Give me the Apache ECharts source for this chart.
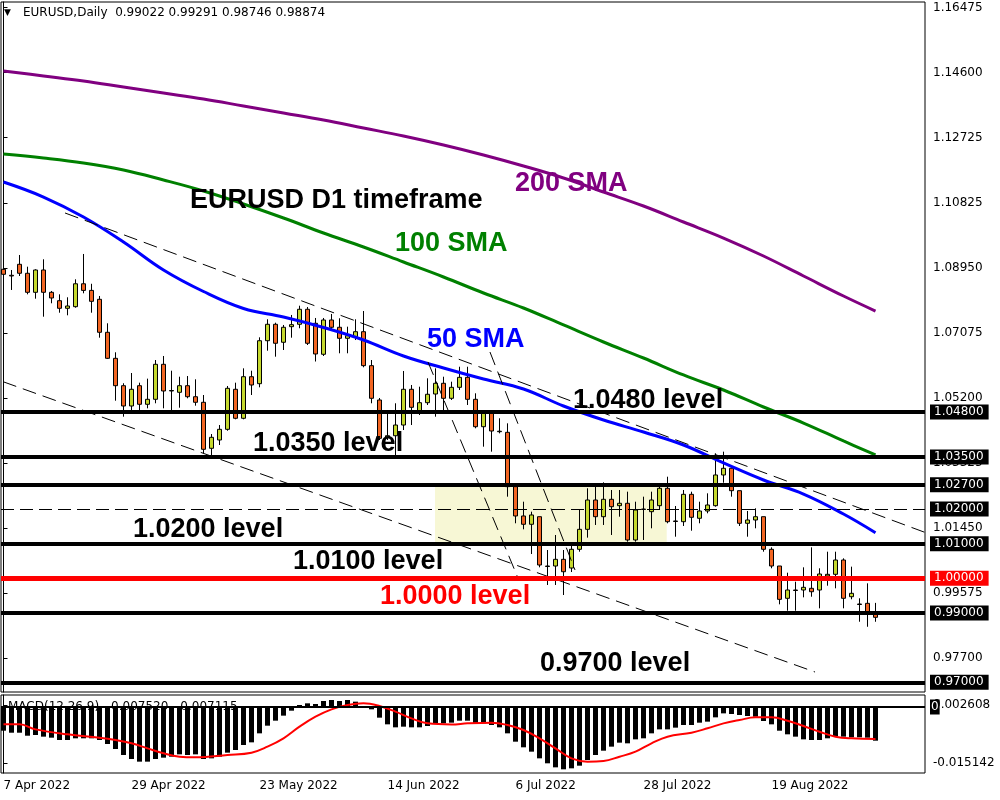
<!DOCTYPE html>
<html><head><meta charset="utf-8">
<script src="https://cdn.jsdelivr.net/npm/echarts@6/dist/echarts.min.js"></script>
<style>html,body{margin:0;padding:0;background:#fff}#c{width:1000px;height:800px}</style>
</head><body><div id="c"></div>
<script>
// ---------- data ----------
const dateLabels = ['7 Apr 2022','29 Apr 2022','23 May 2022','14 Jun 2022','6 Jul 2022','28 Jul 2022','19 Aug 2022'];
const dateIdx = [0,16,32,48,64,80,96];

const opens = [1.08918,1.08745,1.09062,1.08803,1.08254,1.08898,1.08254,1.08012,1.07792,1.07839,
 1.08500,1.08309,1.08052,1.07100,1.06349,1.05559,1.04973,1.05559,1.05022,1.05166,
 1.06176,1.05420,1.05368,1.05559,1.05241,1.05080,1.03752,1.03992,1.04300,1.05455,
 1.04618,1.05818,1.05617,1.06857,1.07331,1.06812,1.07262,1.07331,1.07764,1.07360,
 1.06465,1.07455,1.07245,1.06927,1.06973,1.07117,1.06137,1.05146,1.04078,1.04115,
 1.04424,1.05455,1.04837,1.05068,1.05319,1.05628,1.05195,1.05512,1.05800,1.05166,
 1.04375,1.04762,1.04231,1.04213,1.02645,1.01799,1.01559,1.01778,1.00355,1.00355,
 1.00548,1.00297,1.00837,1.01414,1.02260,1.01778,1.02280,1.02096,1.02165,1.01106,
 1.02000,1.01923,1.02096,1.02598,1.01654,1.01634,1.02424,1.01732,1.01943,1.02096,
 1.02982,1.03175,1.02529,1.01588,1.01683,1.01778,1.00837,1.00355,0.99423,0.99663,
 0.99663,0.99711,0.99663,1.00067,1.00115,1.00528,0.99469,0.99259,0.99278,0.99022];
const closes = [1.08774,1.08725,1.08803,1.08254,1.08898,1.08254,1.08090,1.07792,1.07859,1.08500,
 1.08309,1.07994,1.07100,1.06349,1.05559,1.04973,1.05455,1.05022,1.05166,1.06176,
 1.05406,1.05406,1.05559,1.05241,1.05080,1.03723,1.04069,1.04300,1.05483,1.04618,
 1.05818,1.05579,1.06857,1.07331,1.06783,1.07245,1.07320,1.07764,1.06783,1.06474,
 1.07455,1.07245,1.06927,1.07002,1.07117,1.06137,1.05195,1.04040,1.04115,1.04424,
 1.05455,1.04935,1.05068,1.05311,1.05628,1.05195,1.05512,1.05800,1.05166,1.04375,
 1.04762,1.04251,1.04245,1.02645,1.01799,1.01559,1.01828,1.00384,1.00341,1.00548,
 1.00190,1.00837,1.01414,1.02260,1.01778,1.02280,1.02067,1.02165,1.01106,1.01971,
 1.01986,1.02260,1.02598,1.01634,1.01640,1.02424,1.01761,1.01943,1.02116,1.02982,
 1.03175,1.02529,1.01588,1.01683,1.01778,1.00837,1.00355,0.99393,0.99663,0.99648,
 0.99740,0.99613,1.00124,1.00115,1.00528,0.99423,0.99567,0.99244,0.99036,0.98874];
const highs = [1.09360,1.08898,1.09331,1.08993,1.08918,1.09207,1.08292,1.08196,1.08110,1.08629,
 1.09360,1.08500,1.08148,1.07360,1.06523,1.05629,1.05925,1.05646,1.05762,1.06300,
 1.06416,1.05991,1.05818,1.05838,1.05743,1.05290,1.04164,1.04424,1.05550,1.05646,
 1.06060,1.05991,1.06955,1.07475,1.07377,1.07311,1.07600,1.07867,1.07830,1.07513,
 1.07513,1.07628,1.07504,1.07262,1.07475,1.07714,1.06300,1.05204,1.04762,1.05051,
 1.05983,1.05579,1.05530,1.05772,1.06060,1.05818,1.05674,1.06106,1.06106,1.05339,
 1.04857,1.04771,1.04618,1.04473,1.02645,1.02211,1.01923,1.01778,1.00817,1.01250,
 1.00817,1.00961,1.01992,1.02598,1.02645,1.02770,1.02549,1.02549,1.02500,1.02211,
 1.02356,1.02500,1.02742,1.02932,1.02087,1.02549,1.02500,1.02211,1.02453,1.03608,
 1.03655,1.03175,1.02529,1.01943,1.02020,1.01778,1.00894,1.00355,1.00162,0.99902,
 1.00317,1.00894,1.00289,1.00768,1.00768,1.00577,1.00336,0.99423,0.99855,0.99291];
const lows = [1.08629,1.08321,1.08725,1.08196,1.08070,1.07550,1.07937,1.07665,1.07590,1.07810,
 1.08225,1.07665,1.06944,1.06329,1.05126,1.04664,1.04857,1.04857,1.04906,1.05051,
 1.04906,1.04857,1.04924,1.05195,1.04982,1.03608,1.03539,1.03847,1.04259,1.04589,
 1.04589,1.05290,1.05512,1.06569,1.06396,1.06589,1.06944,1.07216,1.06733,1.06257,
 1.06416,1.07167,1.06494,1.06494,1.06877,1.06090,1.05051,1.03992,1.03992,1.03559,
 1.04280,1.04424,1.04713,1.05002,1.04664,1.04857,1.05146,1.05435,1.05002,1.04329,
 1.03799,1.03655,1.04184,1.02356,1.01588,1.01414,1.00701,1.00317,0.99807,0.99807,
 0.99518,1.00182,1.00768,1.01174,1.01539,1.01539,1.01250,1.01778,1.01057,1.01057,
 1.01106,1.01443,1.01971,1.01588,1.01201,1.01510,1.01374,1.01588,1.01876,1.02067,
 1.02759,1.02356,1.01510,1.01201,1.01443,1.00768,1.00289,0.99249,0.99065,0.99065,
 0.99451,0.99469,0.99134,0.99787,0.99711,0.99134,0.99394,0.98747,0.98602,0.98746];

// moving averages, read at sampled bars [bar, price]
const sma50 = [[0,1.11437],[5,1.11004],[10,1.10427],[15,1.09706],[20,1.08898],[25,1.08277],[30,1.07787],[35,1.07541],[40,1.07239],[45,1.06877],[50,1.06416],[55,1.06070],[60,1.05752],[65,1.05463],[70,1.04973],[75,1.04569],[80,1.04222],[85,1.03847],[90,1.03328],[95,1.02837],[100,1.02433],[105,1.01856],[109,1.01316]];
const sma100 = [[0,1.12246],[5,1.12130],[10,1.11986],[15,1.11784],[20,1.11495],[25,1.11178],[30,1.10803],[35,1.10399],[40,1.09966],[45,1.09562],[50,1.09129],[55,1.08696],[60,1.08234],[65,1.07801],[70,1.07311],[75,1.06820],[80,1.06358],[85,1.05868],[90,1.05435],[95,1.04944],[100,1.04482],[105,1.03963],[109,1.03559]];
const sma200 = [[0,1.14641],[5,1.14497],[10,1.14352],[15,1.14179],[20,1.14006],[25,1.13833],[30,1.13631],[35,1.13429],[40,1.13227],[45,1.12996],[50,1.12765],[55,1.12505],[60,1.12217],[65,1.11899],[70,1.11553],[75,1.11149],[80,1.10745],[85,1.10283],[90,1.09821],[95,1.09302],[100,1.08725],[105,1.08147],[109,1.07714]];

const macdHist = [-0.00529,-0.00574,-0.00574,-0.00641,-0.00625,-0.00662,-0.00685,-0.00737,-0.00737,-0.00699,
 -0.00699,-0.00699,-0.00737,-0.00826,-0.00938,-0.01071,-0.01161,-0.01220,-0.01220,-0.01161,
 -0.01131,-0.01109,-0.01057,-0.01071,-0.01057,-0.01161,-0.01146,-0.01109,-0.01019,-0.00960,
 -0.00848,-0.00789,-0.00588,-0.00417,-0.00305,-0.00193,-0.00082,0.00045,0.00082,0.00067,
 0.00134,0.00156,0.00134,0.00156,0.00119,0.00008,-0.00052,-0.00238,-0.00387,-0.00454,
 -0.00439,-0.00454,-0.00454,-0.00424,-0.00365,-0.00365,-0.00350,-0.00305,-0.00305,-0.00365,
 -0.00365,-0.00402,-0.00454,-0.00588,-0.00774,-0.00900,-0.00997,-0.01146,-0.01257,-0.01347,
 -0.01391,-0.01369,-0.01310,-0.01183,-0.01071,-0.00975,-0.00885,-0.00796,-0.00811,-0.00722,
 -0.00699,-0.00588,-0.00499,-0.00499,-0.00461,-0.00402,-0.00402,-0.00350,-0.00327,-0.00231,
 -0.00142,-0.00156,-0.00179,-0.00201,-0.00216,-0.00313,-0.00387,-0.00529,-0.00610,-0.00662,
 -0.00722,-0.00737,-0.00737,-0.00699,-0.00647,-0.00662,-0.00677,-0.00677,-0.00685,-0.00752];
const macdSignal = [[0,-0.00387],[2,-0.00387],[4,-0.00499],[8,-0.00610],[12,-0.00685],[14,-0.00737],[16,-0.00811],[18,-0.00923],[20,-0.01034],[22,-0.01109],[24,-0.01124],[28,-0.01071],[31,-0.01019],[33,-0.00885],[35,-0.00699],[37,-0.00439],[39,-0.00216],[41,-0.00052],[43,0.00045],[45,0.00082],[47,0.00022],[49,-0.00104],[51,-0.00253],[53,-0.00365],[56,-0.00390],[58,-0.00365],[61,-0.00350],[63,-0.00402],[65,-0.00513],[67,-0.00699],[69,-0.00923],[71,-0.01146],[73,-0.01220],[75,-0.01205],[77,-0.01109],[79,-0.00997],[81,-0.00811],[83,-0.00662],[86,-0.00574],[88,-0.00476],[90,-0.00365],[92,-0.00290],[94,-0.00231],[96,-0.00231],[98,-0.00305],[100,-0.00424],[102,-0.00551],[104,-0.00662],[106,-0.00699],[109,-0.007115]];

const priceTicks = [1.16475,1.14600,1.12725,1.10825,1.08950,1.07075,1.05200,1.03325,1.01450,0.99575,0.97700];
const blackLevels = [1.048,1.035,1.027,1.010,0.990,0.970];
const dashedLevel = 1.020;
const redLevel = 1.000;
const trendLines = [
  [[7.69,1.10543],[115.1,1.01332]],
  [[-0.06,1.05674],[101.44,0.97296]],
  [[53.06,1.06244],[64.31,1.00009]],
  [[60.81,1.06531],[71.44,1.00240]]
];
const zoneBox = [[53.94,1.027],[82.9,1.010]];
const headerText = 'EURUSD,Daily  0.99022 0.99291 0.98746 0.98874';
const macdText = 'MACD(12,26,9)  -0.007520  -0.007115';

// ---------- layout ----------
const X_MIN = -0.3125, X_MAX = 115.1875;
const Y_MIN = 0.96719, Y_MAX = 1.16632;
const M_MIN = -0.014732, M_MAX = 0.002679;
const FONT = 'DejaVu Sans';

const chart = echarts.init(document.getElementById('c'), null, {renderer:'canvas'});

function boxLabel(txt, bg){
  return {show:true, position:'end', distance:5, formatter:txt, color:'#fff', backgroundColor:bg,
    padding:[2,5,1,4], fontFamily:FONT, fontSize:12};
}
const levelData = blackLevels.map(v => ({yAxis:v, lineStyle:{color:'#000', width:4, type:'solid'}, label:boxLabel(v.toFixed(5),'#000')}));
levelData.push({yAxis:dashedLevel, lineStyle:{color:'#000', width:1, type:[13,6]}, label:boxLabel(dashedLevel.toFixed(5),'#000')});
levelData.push({yAxis:redLevel, lineStyle:{color:'#ff0000', width:5, type:'solid'}, label:boxLabel(redLevel.toFixed(5),'#ff0000')});

function annot(text, x, y, color){
  return {type:'text', x:x, y:y, z:10, silent:true,
    style:{text:text, fill:color, font:'bold 27px "Liberation Sans", Arial, sans-serif', verticalAlign:'middle', align:'left'}};
}

const option = {
  animation:false,
  backgroundColor:'#fff',
  grid:[
    {left:1, top:2, width:924, height:690, show:true, borderColor:'#000', borderWidth:1, backgroundColor:'#fff'},
    {left:1, top:695, width:924, height:78, show:true, borderColor:'#000', borderWidth:1, backgroundColor:'#fff'}
  ],
  xAxis:[
    {gridIndex:0, type:'value', min:X_MIN, max:X_MAX, show:false},
    {gridIndex:1, type:'value', min:X_MIN, max:X_MAX,
      axisLine:{show:false}, splitLine:{show:false},
      axisTick:{show:true, customValues:dateIdx, length:4, lineStyle:{color:'#000'}},
      axisLabel:{customValues:dateIdx, formatter:v => dateLabels[dateIdx.indexOf(Math.round(v))] || '',
        align:'left', margin:7, fontFamily:FONT, fontSize:12, color:'#000'}}
  ],
  yAxis:[
    {gridIndex:0, type:'value', position:'right', min:Y_MIN, max:Y_MAX, splitLine:{show:false},
      axisLine:{show:true, lineStyle:{color:'#000'}},
      axisTick:{show:true, customValues:priceTicks, length:4, lineStyle:{color:'#000'}},
      axisLabel:{customValues:priceTicks, formatter:v => v.toFixed(5), margin:8, fontFamily:FONT, fontSize:12, color:'#000'}},
    {gridIndex:1, type:'value', position:'right', min:M_MIN, max:M_MAX, splitLine:{show:false},
      axisLine:{show:true, lineStyle:{color:'#000'}},
      axisTick:{show:true, customValues:[0.00045,-0.0125], length:4, lineStyle:{color:'#000'}},
      axisLabel:{customValues:[0.00045,-0.0125], formatter:v => v > 0 ? '0.002608' : '-0.015142', margin:8, fontFamily:FONT, fontSize:12, color:'#000'}}
  ],
  series:[
    {type:'line', xAxisIndex:0, yAxisIndex:0, data:[], z:1, silent:true,
      markArea:{silent:true, itemStyle:{color:'#F7F7D5'}, data:[[{coord:zoneBox[0]},{coord:zoneBox[1]}]]}},
    {type:'candlestick', xAxisIndex:0, yAxisIndex:0, z:3, barWidth:4,
      data:opens.map((o,i) => [i, o, closes[i], lows[i], highs[i]]),
      encode:{x:0, y:[1,2,3,4]},
      itemStyle:{color:'#C5D82E', color0:'#F26522', borderColor:'#000', borderColor0:'#000', borderWidth:1}},
    {type:'line', xAxisIndex:0, yAxisIndex:0, z:4, data:sma200, smooth:0.4, showSymbol:false, lineStyle:{color:'#800080', width:3}},
    {type:'line', xAxisIndex:0, yAxisIndex:0, z:4, data:sma100, smooth:0.4, showSymbol:false, lineStyle:{color:'#008000', width:3}},
    {type:'line', xAxisIndex:0, yAxisIndex:0, z:4, data:sma50, smooth:0.4, showSymbol:false, lineStyle:{color:'#0000FF', width:3}},
    {type:'line', xAxisIndex:0, yAxisIndex:0, data:[], z:5, silent:true,
      markLine:{silent:true, precision:6, symbol:['none','none'], data:trendLines.map(t => [{coord:t[0]},{coord:t[1]}]),
        lineStyle:{color:'#000', width:1, type:[14,7]}, label:{show:false}}},
    {type:'line', xAxisIndex:0, yAxisIndex:0, data:[], z:6, silent:true,
      markLine:{silent:true, precision:6, symbol:['none','none'], data:levelData}},
    {type:'bar', xAxisIndex:1, yAxisIndex:1, z:2, barWidth:5, data:macdHist.map((v,i) => [i,v]),
      itemStyle:{color:'#000'}},
    {type:'line', xAxisIndex:1, yAxisIndex:1, data:[], z:3, silent:true,
      markLine:{silent:true, precision:6, symbol:['none','none'],
        data:[{yAxis:0, lineStyle:{color:'#000', width:2, type:'solid'},
          label:{show:true, position:'end', distance:5, formatter:'0', color:'#fff', backgroundColor:'#000', padding:[2,1,1,1], fontFamily:FONT, fontSize:12}}]}},
    {type:'line', xAxisIndex:1, yAxisIndex:1, z:4, data:macdSignal, smooth:0.4, showSymbol:false, lineStyle:{color:'#ff0000', width:2}}
  ],
  graphic:{elements:[
    {type:'text', x:4, y:13, z:10, style:{text:'▼', fill:'#000', font:'9px "DejaVu Sans"', verticalAlign:'middle'}},
    {type:'text', x:23, y:13, z:10, style:{text:headerText, fill:'#000', font:'12px "DejaVu Sans"', verticalAlign:'middle'}},
    {type:'text', x:8, y:701, z:0, style:{text:macdText, fill:'#000', font:'12px "DejaVu Sans"', verticalAlign:'top'}},
    annot('EURUSD D1 timeframe', 190, 201, '#000'),
    annot('200 SMA', 515, 184, '#800080'),
    annot('100 SMA', 395, 244, '#008000'),
    annot('50 SMA', 427, 340, '#0000FF'),
    annot('1.0480 level', 573, 401, '#000'),
    annot('1.0350 level', 253, 444, '#000'),
    annot('1.0200 level', 133, 530, '#000'),
    annot('1.0100 level', 293, 562, '#000'),
    annot('1.0000 level', 380, 597, '#FF0000'),
    annot('0.9700 level', 540, 664, '#000')
  ]}
};
chart.setOption(option);
</script></body></html>
